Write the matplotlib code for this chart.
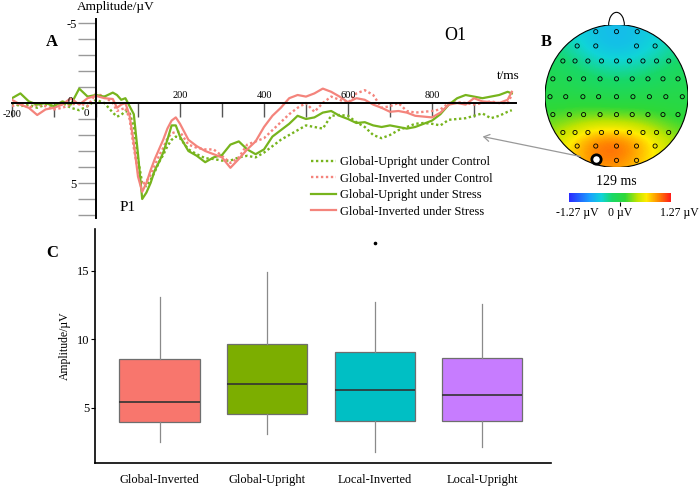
import matplotlib
matplotlib.use("Agg")
import matplotlib.pyplot as plt
from matplotlib.patches import Circle, Arc, FancyArrowPatch
from matplotlib.colors import LinearSegmentedColormap

plt.rcParams['font.family'] = ['Liberation Serif', 'DejaVu Serif']

# ---------- panel A: ERP at O1 (uV, positive plotted downward) ----------
times = [-200, -180, -160, -140, -120, -100, -80, -60, -40, -20, 0, 20, 40, 50, 60,
         70, 80, 90, 100, 110, 120, 130, 140, 150, 160, 170, 180, 190, 200,
         220, 240, 260, 280, 300, 320, 340, 360, 380, 400, 420, 440, 460, 480,
         500, 520, 540, 560, 580, 600, 620, 640, 660, 680, 700, 720, 740, 760,
         780, 800, 820, 840, 860, 880, 900, 920, 940, 960, 980, 990]

gu_control = [0.0, 0.2, 0.1, 0.3, 0.1, 0.2, 0.0, 0.3, 0.45, 0.2, -0.2, 0.0, 0.6, 0.85, 0.75,
              0.5, 0.6, 1.5, 3.5, 5.0, 5.2, 4.8, 4.3, 3.7, 3.25, 2.7, 2.3, 2.1, 2.2,
              2.9, 3.2, 3.45, 3.5, 3.6, 3.6, 3.4, 3.3, 3.4, 3.1, 2.7, 2.3, 2.0, 1.7,
              1.4, 1.5, 1.6, 0.8, 0.75, 0.8, 1.2, 1.5, 2.0, 2.2, 2.0, 1.7, 1.5, 1.3,
              1.25, 1.3, 1.4, 1.05, 1.0, 0.95, 0.8, 0.65, 0.95, 0.8, 0.55, 0.45]

gi_control = [0.2, 0.0, 0.3, 0.1, 0.2, 0.4, 0.3, 0.1, 0.0, 0.2, -0.6, -0.4, 0.0, 0.5, 0.4,
              0.3, 1.0, 2.8, 4.3, 5.1, 4.9, 4.5, 3.9, 3.3, 2.8, 2.2, 1.9, 1.8, 1.8,
              2.6, 2.8, 2.9, 2.9, 3.3, 3.75, 3.4, 2.6, 2.4, 2.2, 1.7, 1.2, 0.7, 0.3,
              0.0, 0.55, 0.0, -0.4, -0.2, 0.0, -0.6, -0.8, -0.5, 0.3, 0.2, 0.0, 0.5, 0.6,
              0.55, 0.5, 0.4, 0.0, -0.05, 0.0, 0.1, 0.0, -0.1, 0.0, 0.0, -0.5]

gu_stress = [-0.3, -0.6, -0.1, 0.1, 0.0, 0.2, -0.1, 0.1, -0.9, -0.4, -0.5, -0.4, -0.65, -0.5, -0.2,
             -0.3, 0.2, 0.7, 3.2, 6.0, 5.6, 5.0, 4.2, 3.7, 3.1, 2.3, 1.4, 1.4, 2.1,
             3.0, 3.3, 3.7, 3.4, 3.25, 2.6, 2.4, 2.9, 3.2, 2.9, 2.1, 1.7, 1.3, 0.8,
             1.0, 0.9, 0.6, 0.5, 0.8, 1.0, 1.25, 1.2, 1.4, 1.5, 1.4, 1.5, 1.6, 1.5,
             1.3, 1.1, 0.7, 0.1, -0.3, -0.5, -0.4, -0.3, -0.4, -0.5, -0.7, -0.6]

gi_stress = [-0.2, 0.1, 0.3, 0.75, 0.4, 0.3, 0.1, -0.3, 0.1, -0.3, -0.45, -0.3, -0.25, 0.3, 0.1,
             0.0, 0.8, 2.5, 4.6, 5.55, 5.0, 4.2, 3.5, 2.9, 2.3, 1.6, 1.1, 0.9, 1.3,
             2.3, 2.7, 3.0, 3.2, 3.4, 4.05, 3.5, 2.9, 2.4, 1.5, 0.8, 0.3, -0.3, -0.5,
             -0.4, -0.6, -0.9, -0.7, -0.4, -0.05, -0.3, -0.2, 0.1, 0.3, 0.55, 0.5, 0.6, 0.8,
             0.85, 0.9, 0.6, 0.1, 0.0, 0.1, -0.3, -0.1, -0.05, 0.0, -0.2, -0.7]

series_labels = ["Global-Upright under Control", "Global-Inverted under Control",
                 "Global-Upright under Stress", "Global-Inverted under Stress"]

# ---------- panel B: topography at 129 ms ----------
topo_grid = [[-0.35, -0.45, -0.55, -0.6, -0.55, -0.45, -0.35],
             [-0.2, -0.35, -0.55, -0.62, -0.55, -0.4, -0.25],
             [-0.05, -0.12, -0.25, -0.32, -0.28, -0.18, -0.08],
             [0.0, 0.0, -0.02, -0.05, -0.02, 0.0, 0.0],
             [0.2, 0.25, 0.3, 0.28, 0.25, 0.15, 0.08],
             [0.4, 0.7, 1.1, 1.2, 0.95, 0.55, 0.3],
             [0.45, 0.68, 0.88, 0.9, 0.72, 0.5, 0.35]]
topo_limit = 1.27

montage = [(0.90, [-0.29, 0.0, 0.29]),
           (0.70, [-0.55, -0.29, 0.28, 0.54]),
           (0.49, [-0.75, -0.58, -0.40, -0.21, 0.0, 0.18, 0.37, 0.56, 0.73]),
           (0.24, [-0.89, -0.66, -0.46, -0.23, 0.0, 0.22, 0.44, 0.65, 0.86]),
           (-0.01, [-0.93, -0.71, -0.47, -0.25, 0.0, 0.23, 0.46, 0.69, 0.92]),
           (-0.26, [-0.89, -0.66, -0.46, -0.23, 0.0, 0.22, 0.44, 0.65, 0.86]),
           (-0.51, [-0.75, -0.58, -0.40, -0.21, 0.0, 0.18, 0.37, 0.56, 0.73]),
           (-0.70, [-0.55, -0.29, 0.0, 0.28, 0.54]),
           (-0.90, [0.0, 0.28])]
o1_site = (-0.29, -0.88)

# ---------- panel C: P1 amplitude box plots ----------
conditions = ["Global-Inverted", "Global-Upright", "Local-Inverted", "Local-Upright"]
whis_low = [2.47, 3.1, 1.74, 2.15]
q1 = [3.93, 4.54, 4.05, 4.05]
medians = [5.44, 6.71, 6.27, 5.9]
q3 = [8.56, 9.66, 9.05, 8.61]
whis_high = [13.05, 14.9, 12.75, 12.59]
outliers = [[], [], [17.0], []]
box_colors = ["#F8766D", "#7CAE00", "#00BFC4", "#C77CFF"]

green = "#77b41d"
salmon = "#f4847c"

fig = plt.figure(figsize=(7, 4.86), dpi=100)


def fx(p):
    return p / 700


def fy(p):
    return 1 - p / 486


# ---- A ----
ax = fig.add_axes([fx(12), fy(218.2), 504 / 700, 199.2 / 486])
ax.plot(times, gu_control, color=green, ls=(0, (1, 1.1)), lw=1.7, label=series_labels[0])
ax.plot(times, gi_control, color=salmon, ls=(0, (1, 1.1)), lw=1.7, label=series_labels[1])
ax.plot(times, gu_stress, color=green, lw=1.6, label=series_labels[2])
ax.plot(times, gi_stress, color=salmon, lw=1.6, label=series_labels[3])
ax.set_xlim(-200, 1000)
ax.set_ylim(7.2, -5.25)
for s in ["top", "right"]:
    ax.spines[s].set_visible(False)
ax.spines["left"].set_position(("data", 0))
ax.spines["bottom"].set_position(("data", 0))
ax.spines["left"].set_linewidth(1.4)
ax.spines["bottom"].set_linewidth(1.4)
ax.patch.set_alpha(0)
ax.set_xticks(range(-200, 1000, 100))
ax.set_xticklabels([])
ax.tick_params(axis="x", direction="out", length=10, color="#555555", width=1)
ax.set_yticks(range(-5, 8))
ax.set_yticklabels(["-5"] + [""] * 9 + ["5", "", ""])
ax.tick_params(axis="y", direction="out", length=13, color="#999999", width=1,
               labelsize=9, pad=1)
for t in [200, 400, 600, 800]:
    ax.text(t, -0.2, str(t), ha="center", va="bottom", fontsize=7.5)
ax.text(-200, 0.45, "-200", ha="center", va="top", fontsize=7.5)
ax.text(-62, -0.1, "0", ha="center", va="center", fontsize=8)
ax.text(-24, 0.65, "0", ha="center", va="center", fontsize=8)
ax.text(76, 6.5, "P1", ha="center", va="center", fontsize=11)
ax.legend(loc="upper left", bbox_to_anchor=(fx(306), fy(151)), bbox_transform=fig.transFigure,
          frameon=False, fontsize=9, handlelength=2.0, handletextpad=0.3,
          labelspacing=0.37, borderaxespad=0)

fig.text(fx(77), fy(7), "Amplitude/\u00b5V", ha="left", va="center", fontsize=9.5)
fig.text(fx(52), fy(42), "A", ha="center", va="center", fontsize=12, fontweight="bold")
fig.text(fx(455), fy(36), "O1", ha="center", va="center", fontsize=13)
fig.text(fx(508), fy(76), "t/ms", ha="center", va="center", fontsize=9.5)

# ---- B ----
cmap = LinearSegmentedColormap.from_list(
    "topo", [(0.0, "#2a2aff"), (0.2, "#1aa0ff"), (0.32, "#10d4d8"), (0.42, "#18d868"),
             (0.55, "#2ed838"), (0.67, "#c0e400"), (0.76, "#ffec00"), (0.87, "#ff9000"),
             (1.0, "#ff1a1a")])
tax = fig.add_axes([fx(545), fy(167.5), 143 / 700, 143 / 486])
h = 1 / 6
im = tax.imshow(topo_grid, extent=(-1 - h, 1 + h, -1 - h, 1 + h), cmap=cmap,
                vmin=-topo_limit, vmax=topo_limit, interpolation="bicubic", origin="upper")
head = Circle((0, 0), 1, fc="none", ec="black", lw=0.8)
tax.add_patch(head)
im.set_clip_path(head)
tax.add_patch(Arc((0, 0.99), 0.22, 0.36, theta1=0, theta2=180, color="black", lw=0.8,
                  clip_on=False))
for yy, xs in montage:
    tax.scatter(xs, [yy] * len(xs), s=9, facecolors="none", edgecolors="black",
                linewidths=0.6, zorder=3)
tax.scatter([o1_site[0]], [o1_site[1]], s=45, facecolors="white", edgecolors="black",
            linewidths=2, zorder=4)
tax.set_xlim(-1, 1)
tax.set_ylim(-1, 1)
tax.axis("off")

cax = fig.add_axes([fx(569), fy(202), 102 / 700, 9 / 486])
cb = fig.colorbar(im, cax=cax, orientation="horizontal")
cb.outline.set_visible(False)
cb.set_ticks([0])
cax.tick_params(length=3, labelbottom=False, width=0.8)
fig.text(fx(616), fy(181), "129 ms", ha="center", va="center", fontsize=10)
fig.text(fx(577), fy(213), "-1.27 \u00b5V", ha="center", va="center", fontsize=8.5)
fig.text(fx(620), fy(213), "0 \u00b5V", ha="center", va="center", fontsize=8.5)
fig.text(fx(679), fy(213), "1.27 \u00b5V", ha="center", va="center", fontsize=8.5)
fig.text(fx(546), fy(42), "B", ha="center", va="center", fontsize=12, fontweight="bold")

fig.patches.append(FancyArrowPatch(
    (fx(583), fy(157)), (fx(480), fy(136)), transform=fig.transFigure,
    arrowstyle="->,head_length=4,head_width=2.5", color="#999999", lw=0.9))

# ---- C ----
bax = fig.add_axes([fx(95), fy(462.7), 456 / 700, 233.7 / 486])
stats = []
for i, name in enumerate(conditions):
    stats.append(dict(label=name, whislo=whis_low[i], q1=q1[i], med=medians[i],
                      q3=q3[i], whishi=whis_high[i], fliers=outliers[i]))
bp = bax.bxp(stats, positions=[1, 2, 3, 4], widths=0.745, patch_artist=True,
             showcaps=False,
             boxprops=dict(edgecolor="#6e6e6e", linewidth=0.9),
             medianprops=dict(color="#333333", linewidth=1.2),
             whiskerprops=dict(color="#8a8a8a", linewidth=0.9),
             flierprops=dict(marker="o", markersize=1.6, markerfacecolor="black",
                             markeredgecolor="black"))
for patch, c in zip(bp["boxes"], box_colors):
    patch.set_facecolor(c)
bax.set_xlim(0.4, 4.64)
bax.set_ylim(0.98, 18.05)
for s in ["top", "right"]:
    bax.spines[s].set_visible(False)
bax.spines["left"].set_linewidth(1.2)
bax.spines["bottom"].set_linewidth(1.2)
bax.set_yticks([5, 10, 15])
bax.tick_params(axis="y", length=3, labelsize=9, pad=1)
bax.set_xticks([1, 2, 3, 4])
bax.set_xticklabels(conditions)
bax.tick_params(axis="x", length=0, labelsize=9, pad=8)
bax.set_ylabel("Amplitude/\u00b5V", fontsize=8.5, labelpad=4)
fig.text(fx(52), fy(253), "C", ha="center", va="center", fontsize=12, fontweight="bold")

fig.savefig("out.png", dpi=100)
